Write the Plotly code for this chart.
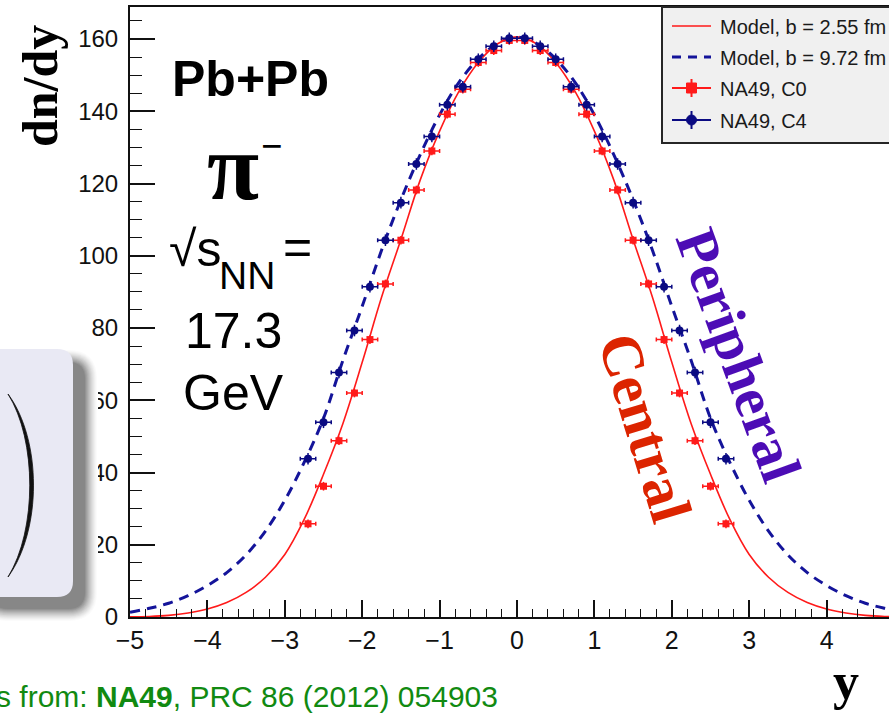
import plotly.graph_objects as go

# ---------------- data ----------------
# NA49 rapidity bins (centres), reflected about mid-rapidity
rap_data = [-2.7, -2.5, -2.3, -2.1, -1.9, -1.7, -1.5, -1.3, -1.1, -0.9, -0.7, -0.5, -0.3, -0.1,
            0.1, 0.3, 0.5, 0.7, 0.9, 1.1, 1.3, 1.5, 1.7, 1.9, 2.1, 2.3, 2.5, 2.7]
dndy_c0 = [25.8, 36.2, 48.8, 62.0, 76.8, 92.2, 104.3, 118.2, 129.0, 139.2, 146.1, 153.5, 156.8, 159.6,
           159.6, 156.8, 153.5, 146.1, 139.2, 129.0, 118.2, 104.3, 92.2, 76.8, 62.0, 48.8, 36.2, 25.8]
dndy_c4 = [43.8, 53.9, 67.7, 79.3, 91.4, 104.3, 114.7, 125.4, 133.0, 141.8, 146.8, 154.4, 158.0, 160.2,
           160.2, 158.0, 154.4, 146.8, 141.8, 133.0, 125.4, 114.7, 104.3, 91.4, 79.3, 67.7, 53.9, 43.8]

# model curves
rap_model = [-5.0, -4.75, -4.5, -4.25, -4.0, -3.75, -3.5, -3.25, -3.0, -2.75, -2.5, -2.25, -2.0, -1.75,
             -1.5, -1.25, -1.0, -0.75, -0.5, -0.25, 0.0, 0.25, 0.5, 0.75, 1.0, 1.25, 1.5, 1.75,
             2.0, 2.25, 2.5, 2.75, 3.0, 3.25, 3.5, 3.75, 4.0, 4.25, 4.5, 4.75, 5.0]
model_b255 = [0.05, 0.15, 0.45, 1.1, 2.2, 4.0, 6.8, 11.0, 17.3, 27.0, 39.5, 53.5, 70.5, 88.5,
              104.5, 121.0, 134.5, 145.5, 153.5, 158.7, 160.6, 158.7, 153.5, 145.5, 134.5, 121.0, 104.5, 88.5,
              70.5, 53.5, 39.5, 27.0, 17.3, 11.0, 6.8, 4.0, 2.2, 1.1, 0.45, 0.15, 0.05]
model_b972 = [1.3, 2.4, 3.8, 5.9, 8.7, 12.3, 17.2, 23.8, 32.3, 42.8, 55.0, 71.0, 86.0, 101.5,
              115.5, 128.0, 139.0, 148.0, 154.5, 158.8, 160.5, 158.8, 154.5, 148.0, 139.0, 128.0, 115.5, 101.5,
              86.0, 71.0, 55.0, 42.8, 32.3, 23.8, 17.2, 12.3, 8.7, 5.9, 3.8, 2.4, 1.3]

x_ticks = [-5, -4, -3, -2, -1, 0, 1, 2, 3, 4]
y_ticks = [0, 20, 40, 60, 80, 100, 120, 140, 160]

legend_labels = ["Model, b = 2.55 fm", "Model, b = 9.72 fm", "NA49, C0", "NA49, C4"]

# ---------------- styling ----------------
W, H = 889, 714
ML, MR, MT, MB = 130, 0, 7, 97
PW, PH = W - ML - MR, H - MT - MB

RED = "#ff1a1a"
NAVY = "#14149a"
NAVY_PT = "#0a0a82"
SANS = "Liberation Sans, Arial, Helvetica, sans-serif"
SERIF = "Liberation Serif, Times New Roman, serif"


def fx(p):
    return (p - ML) / PW


def fy(p):
    return (H - MB - p) / PH


fig = go.Figure()

fig.add_trace(go.Scatter(x=rap_model, y=model_b255, mode="lines", line=dict(color=RED, width=1.6, shape="spline"),
                         showlegend=False, hoverinfo="skip"))
fig.add_trace(go.Scatter(x=rap_model, y=model_b972, mode="lines",
                         line=dict(color=NAVY, width=3, dash="10px,7px", shape="spline"),
                         showlegend=False, hoverinfo="skip"))
fig.add_trace(go.Scatter(x=rap_data, y=dndy_c0, mode="markers",
                         marker=dict(symbol="square", size=7, color=RED),
                         error_x=dict(type="constant", value=0.1, color=RED, thickness=1.5, width=2),
                         error_y=dict(type="constant", value=1.2, color=RED, thickness=1.5, width=0),
                         showlegend=False))
fig.add_trace(go.Scatter(x=rap_data, y=dndy_c4, mode="markers",
                         marker=dict(symbol="circle", size=8, color=NAVY_PT),
                         error_x=dict(type="constant", value=0.1, color=NAVY_PT, thickness=1.5, width=2),
                         error_y=dict(type="constant", value=1.6, color=NAVY_PT, thickness=1.5, width=0),
                         showlegend=False))

shapes = []


def rounded_rect(x0, y0, x1, y1, r):
    return (f"M {fx(x0 + r)} {fy(y0)} L {fx(x1 - r)} {fy(y0)} Q {fx(x1)} {fy(y0)} {fx(x1)} {fy(y0 + r)} "
            f"L {fx(x1)} {fy(y1 - r)} Q {fx(x1)} {fy(y1)} {fx(x1 - r)} {fy(y1)} "
            f"L {fx(x0 + r)} {fy(y1)} Q {fx(x0)} {fy(y1)} {fx(x0)} {fy(y1 - r)} "
            f"L {fx(x0)} {fy(y0 + r)} Q {fx(x0)} {fy(y0)} {fx(x0 + r)} {fy(y0)} Z")


# soft drop shadow of the inset panel (opaque steps, white -> grey)
steps = 14
for k in range(steps):
    grow = (steps - k) * 1.0
    t = (k / (steps - 1)) ** 1.4
    c = int(255 - t * (255 - 135))
    shapes.append(dict(type="path", xref="paper", yref="paper", layer="above",
                       path=rounded_rect(-8 - grow, 363 - grow, 84 + grow, 608 + grow, 16 + grow),
                       fillcolor=f"rgb({c},{c},{c})", line=dict(width=0)))
# inset panel
shapes.append(dict(type="path", xref="paper", yref="paper", layer="above",
                   path=rounded_rect(-20, 349, 73, 597, 16),
                   fillcolor="#e9e9f4", line=dict(width=0)))
# large closing parenthesis inside the panel
shapes.append(dict(type="path", xref="paper", yref="paper", layer="above",
                   path=(f"M {fx(8)} {fy(394)} C {fx(42)} {fy(440)} {fx(42)} {fy(530)} {fx(8)} {fy(577)} "
                         f"C {fx(37)} {fy(530)} {fx(37)} {fy(440)} {fx(8)} {fy(394)} Z"),
                   fillcolor="#111111", line=dict(color="#111111", width=0.8)))

# legend box
shapes.append(dict(type="rect", xref="paper", yref="paper", layer="above",
                   x0=fx(662), x1=fx(905), y0=fy(143), y1=fy(7),
                   fillcolor="#f0f0f0", line=dict(color="#262626", width=2)))
rows = [26, 57, 88, 120]
lx0, lx1, lxm = 672, 711, 691.5
shapes.append(dict(type="line", xref="paper", yref="paper", layer="above",
                   x0=fx(lx0), x1=fx(lx1), y0=fy(rows[0]), y1=fy(rows[0]), line=dict(color=RED, width=1.6)))
shapes.append(dict(type="line", xref="paper", yref="paper", layer="above",
                   x0=fx(lx0), x1=fx(lx1), y0=fy(rows[1]), y1=fy(rows[1]),
                   line=dict(color=NAVY, width=3, dash="9px,7px")))
for r, col, sym in [(rows[2], RED, "rect"), (rows[3], NAVY_PT, "circle")]:
    shapes.append(dict(type="line", xref="paper", yref="paper", layer="above",
                       x0=fx(lx0), x1=fx(lx1), y0=fy(r), y1=fy(r), line=dict(color=col, width=2)))
    shapes.append(dict(type="line", xref="paper", yref="paper", layer="above",
                       x0=fx(lxm), x1=fx(lxm), y0=fy(r - 9), y1=fy(r + 9), line=dict(color=col, width=2)))
    shapes.append(dict(type=sym, xref="paper", yref="paper", layer="above",
                       x0=fx(lxm - 5), x1=fx(lxm + 5), y0=fy(r + 5), y1=fy(r - 5),
                       fillcolor=col, line=dict(color=col, width=1)))

annotations = []


def note(text, x, y, size, family=SANS, color="#000000", angle=0, xanchor="center", bold=False):
    annotations.append(dict(text=f"<b>{text}</b>" if bold else text, x=fx(x), y=fy(y), xref="paper", yref="paper",
                            xanchor=xanchor, yanchor="middle", showarrow=False, textangle=angle,
                            font=dict(family=family, size=size, color=color)))


for r, lab in zip(rows, legend_labels):
    note(lab, 718, r + 1, 20, xanchor="left", color="#1a1a1a")

note("dn/dy", 40, 86, 50, family=SERIF, angle=-90, bold=True)
note("y", 846, 681, 52, family=SERIF, bold=True)
note("Pb+Pb", 250, 79, 50, bold=True)
note("π", 233, 167, 95, family=SERIF, bold=True)
note("−", 272, 146, 38, family=SERIF, bold=True)
note("√s", 167, 249, 50, xanchor="left")
note("NN", 217, 275, 39, xanchor="left")
note("=", 281, 247, 50, xanchor="left")
note("17.3", 233, 331, 50)
note("GeV", 233, 393, 50)
note("Peripheral", 739, 355, 58, family=SERIF, color="#4c0cb5", angle=70, bold=True)
note("Central", 645, 427, 59, family=SERIF, color="#dc2400", angle=73, bold=True)
note("s from: <b>NA49</b>, PRC 86 (2012) 054903", -6, 696, 30, color="#118a11", xanchor="left")

fig.update_layout(
    width=W, height=H,
    margin=dict(l=ML, r=MR, t=MT, b=MB, pad=0),
    paper_bgcolor="white", plot_bgcolor="white",
    showlegend=False,
    shapes=shapes, annotations=annotations,
    xaxis=dict(range=[-5, -5 + PW / 77.4], tickvals=x_ticks, ticks="inside", ticklen=17, tickwidth=1.5,
               tickcolor="#111", showline=True, linecolor="#111", linewidth=2, mirror=True,
               showgrid=False, zeroline=False, ticklabelstandoff=0,
               tickfont=dict(family=SANS, size=25, color="#111"),
               minor=dict(dtick=0.2, ticks="inside", ticklen=8, tickwidth=1.2, tickcolor="#111", showgrid=False)),
    yaxis=dict(range=[0, PH / 3.6125], tickvals=y_ticks, ticks="inside", ticklen=25, tickwidth=1.5,
               tickcolor="#111", showline=True, linecolor="#111", linewidth=2, mirror=False,
               showgrid=False, zeroline=False, ticklabelstandoff=5,
               tickfont=dict(family=SANS, size=24, color="#111"),
               minor=dict(dtick=5, ticks="inside", ticklen=12, tickwidth=1.2, tickcolor="#111", showgrid=False)),
)

fig.write_html("out.html")
